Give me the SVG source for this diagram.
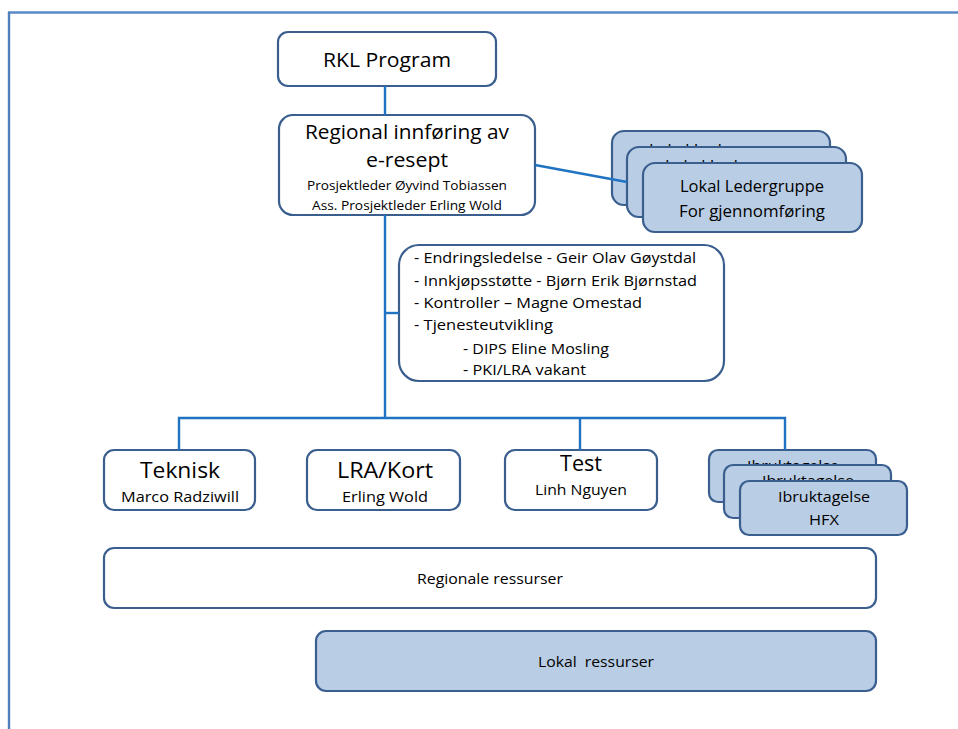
<svg xmlns="http://www.w3.org/2000/svg" width="958" height="729" viewBox="0 0 958 729">
<style>
.w{fill:#ffffff;stroke:#3a5f8f;stroke-width:2.2}
.b{fill:#b9cde5;stroke:#3a5f8f;stroke-width:2.2}
.c{fill:none;stroke:#1f73c2;stroke-width:2.4}
text{font-family:"Open Sans","Liberation Sans",sans-serif;fill:#000;text-anchor:middle}
.l{text-anchor:start}
</style>
<defs>
<clipPath id="clipL1"><rect x="612" y="131" width="218" height="15"/></clipPath>
<clipPath id="clipL2"><rect x="627" y="147" width="219" height="15"/></clipPath>
<clipPath id="clipI1"><rect x="709" y="450" width="167" height="14"/></clipPath>
<clipPath id="clipI2"><rect x="724" y="465" width="167" height="15"/></clipPath>
</defs>
<rect width="958" height="729" fill="#fff"/>
<g id="frame">
<line x1="8" y1="12.5" x2="958" y2="12.5" stroke="#5a8ac6" stroke-width="2.4"/>
<line x1="9" y1="12" x2="9" y2="729" stroke="#4f81bd" stroke-width="2.4"/>
</g>
<g id="rkl">
<rect class="w" x="278" y="32" width="218" height="54" rx="10"/>
<text x="387" y="67" font-size="20" textLength="128" lengthAdjust="spacingAndGlyphs">RKL Program</text>
</g>
<g id="regional">
<rect class="w" x="279" y="115" width="256" height="100" rx="14"/>
<text x="407" y="139" font-size="20" textLength="204" lengthAdjust="spacingAndGlyphs">Regional innføring av</text>
<text x="407" y="167" font-size="20" textLength="82" lengthAdjust="spacingAndGlyphs">e-resept</text>
<text x="407" y="190" font-size="13" textLength="200" lengthAdjust="spacingAndGlyphs">Prosjektleder Øyvind Tobiassen</text>
<text x="407" y="210" font-size="13" textLength="190" lengthAdjust="spacingAndGlyphs">Ass. Prosjektleder Erling Wold</text>
</g>
<g id="lokal-ledergruppe">
<rect class="b" x="612" y="131" width="218" height="74" rx="12"/>
<text x="721" y="156" font-size="17" textLength="144" lengthAdjust="spacingAndGlyphs" clip-path="url(#clipL1)">Lokal Ledergruppe</text>
<rect class="b" x="627" y="147" width="219" height="70" rx="12"/>
<text x="737" y="172" font-size="17" textLength="144" lengthAdjust="spacingAndGlyphs" clip-path="url(#clipL2)">Lokal Ledergruppe</text>
<rect class="b" x="643" y="163" width="219" height="69" rx="12"/>
<text x="752" y="192" font-size="17" textLength="144" lengthAdjust="spacingAndGlyphs">Lokal Ledergruppe</text>
<text x="752" y="217" font-size="17" textLength="146" lengthAdjust="spacingAndGlyphs">For gjennomføring</text>
</g>
<g id="staff">
<rect class="w" x="399" y="245" width="325" height="136" rx="20"/>
<text class="l" x="414" y="263" font-size="14.5" textLength="282" lengthAdjust="spacingAndGlyphs">- Endringsledelse - Geir Olav Gøystdal</text>
<text class="l" x="414" y="286" font-size="14.5" textLength="283" lengthAdjust="spacingAndGlyphs">- Innkjøpsstøtte - Bjørn Erik Bjørnstad</text>
<text class="l" x="414" y="308" font-size="14.5" textLength="228" lengthAdjust="spacingAndGlyphs">- Kontroller – Magne Omestad</text>
<text class="l" x="414" y="330" font-size="14.5" textLength="139" lengthAdjust="spacingAndGlyphs">- Tjenesteutvikling</text>
<text class="l" x="463" y="354" font-size="14.5" textLength="146" lengthAdjust="spacingAndGlyphs">- DIPS Eline Mosling</text>
<text class="l" x="463" y="375" font-size="14.5" textLength="123" lengthAdjust="spacingAndGlyphs">- PKI/LRA vakant</text>
</g>
<g id="teknisk">
<rect class="w" x="104" y="450" width="151" height="60" rx="10"/>
<text x="180" y="478" font-size="22" textLength="80" lengthAdjust="spacingAndGlyphs">Teknisk</text>
<text x="180" y="502" font-size="14.5" textLength="118" lengthAdjust="spacingAndGlyphs">Marco Radziwill</text>
</g>
<g id="lra-kort">
<rect class="w" x="307" y="450" width="153" height="60" rx="10"/>
<text x="385" y="478" font-size="22" textLength="96" lengthAdjust="spacingAndGlyphs">LRA/Kort</text>
<text x="385" y="502" font-size="14.5" textLength="86" lengthAdjust="spacingAndGlyphs">Erling Wold</text>
</g>
<g id="test">
<rect class="w" x="505" y="450" width="152" height="60" rx="10"/>
<text x="581" y="471" font-size="22" textLength="42" lengthAdjust="spacingAndGlyphs">Test</text>
<text x="581" y="495" font-size="14.5" textLength="92" lengthAdjust="spacingAndGlyphs">Linh Nguyen</text>
</g>
<g id="ibruktagelse">
<rect class="b" x="709" y="450" width="167" height="52" rx="9"/>
<text x="793" y="471" font-size="14.5" textLength="92" lengthAdjust="spacingAndGlyphs" clip-path="url(#clipI1)">Ibruktagelse</text>
<rect class="b" x="724" y="465" width="167" height="53" rx="9"/>
<text x="808" y="486" font-size="14.5" textLength="92" lengthAdjust="spacingAndGlyphs" clip-path="url(#clipI2)">Ibruktagelse</text>
<rect class="b" x="740" y="481" width="167" height="54" rx="9"/>
<text x="824" y="502" font-size="14.5" textLength="92" lengthAdjust="spacingAndGlyphs">Ibruktagelse</text>
<text x="824" y="525" font-size="14.5" textLength="30" lengthAdjust="spacingAndGlyphs">HFX</text>
</g>
<g id="regionale-ressurser">
<rect class="w" x="104" y="548" width="772" height="60" rx="10"/>
<text x="490" y="584" font-size="14.5" textLength="146" lengthAdjust="spacingAndGlyphs">Regionale ressurser</text>
</g>
<g id="lokal-ressurser">
<rect class="b" x="316" y="631" width="560" height="60" rx="10"/>
<text x="596" y="667" font-size="14.5" textLength="116" lengthAdjust="spacingAndGlyphs" xml:space="preserve">Lokal  ressurser</text>
</g>
<g id="connectors">
<path class="c" d="M385 86V115"/>
<path class="c" d="M385 215V418"/>
<path class="c" d="M385 313H399"/>
<path class="c" d="M535 165L627 182"/>
<path class="c" d="M179 450V418H785V450"/>
<path class="c" d="M580 418V450"/>
</g>
</svg>
